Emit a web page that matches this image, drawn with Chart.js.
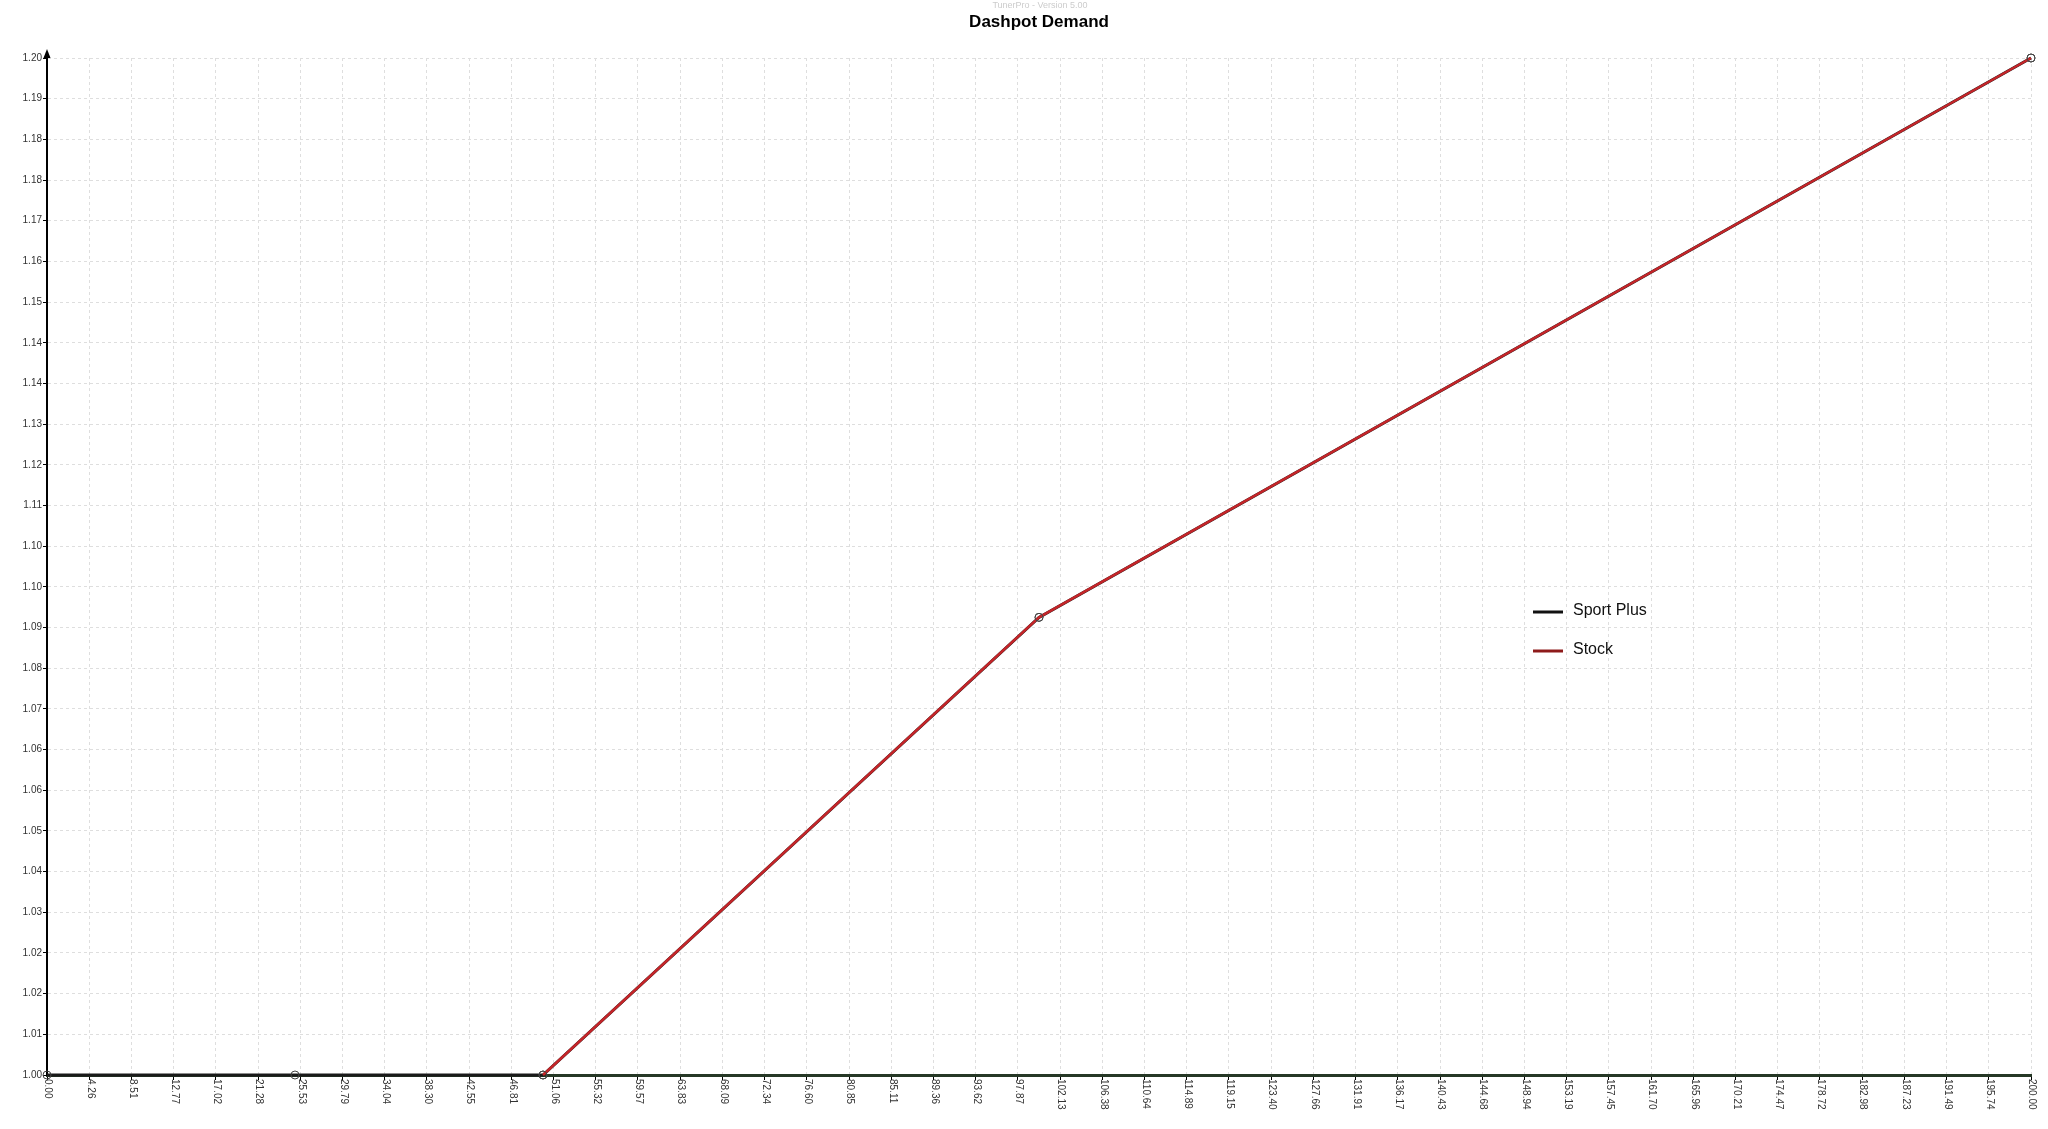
<!DOCTYPE html>
<html lang="en">
<head>
    <meta charset="UTF-8">
    <title>Dashpot Demand</title>
    <script src="https://cdn.jsdelivr.net/npm/chart.js"></script>
    <style>
        body {
            margin: 0;
            padding: 0;
            background: #ffffff;
            overflow: hidden;
        }
        #chart {
            display: block;
        }
    </style>
</head>
<body>
    <canvas id="chart" width="2048" height="1129"></canvas>

    <script>
        // data
        const seriesNames = ['Sport Plus', 'Stock'];
        const xValues = [0, 25, 50, 100, 200];
        const sportPlusValues = [1.00, 1.00, 1.00, 1.09, 1.20];
        const stockValues = [null, null, 1.00, 1.09, 1.20];

        const xTickLabels = ['0.00', '4.26', '8.51', '12.77', '17.02', '21.28', '25.53', '29.79', '34.04', '38.30',
            '42.55', '46.81', '51.06', '55.32', '59.57', '63.83', '68.09', '72.34', '76.60', '80.85',
            '85.11', '89.36', '93.62', '97.87', '102.13', '106.38', '110.64', '114.89', '119.15', '123.40',
            '127.66', '131.91', '136.17', '140.43', '144.68', '148.94', '153.19', '157.45', '161.70', '165.96',
            '170.21', '174.47', '178.72', '182.98', '187.23', '191.49', '195.74', '200.00'];
        const yTickValues = [1.000, 1.008, 1.016, 1.024, 1.032, 1.040, 1.048, 1.056, 1.064, 1.072,
            1.080, 1.088, 1.096, 1.104, 1.112, 1.120, 1.128, 1.136, 1.144, 1.152,
            1.160, 1.168, 1.176, 1.184, 1.192, 1.200];
        const yTickLabels = ['1.00', '1.01', '1.02', '1.02', '1.03', '1.04', '1.05', '1.06', '1.06', '1.07',
            '1.08', '1.09', '1.10', '1.10', '1.11', '1.12', '1.13', '1.14', '1.14', '1.15',
            '1.16', '1.17', '1.18', '1.18', '1.19', '1.20'];

        const lineColors = ['#1a1a1a', '#c42529'];
        const legendColors = ['#111111', '#8e1b1b'];

        const toPoints = vals => vals.map((v, i) => ({ x: xValues[i], y: v }));

        // title, rotated x labels, axis arrow and legend
        const decorations = {
            id: 'decorations',
            afterDraw(chart) {
                const ctx = chart.ctx;
                const area = chart.chartArea;
                const xs = chart.scales.x;
                ctx.save();

                ctx.fillStyle = '#cccccc';
                ctx.font = '9px "Liberation Sans", Arial, sans-serif';
                ctx.textAlign = 'center';
                ctx.textBaseline = 'middle';
                ctx.fillText('TunerPro - Version 5.00', 1040, 6);

                ctx.fillStyle = '#000000';
                ctx.font = 'bold 17px "Liberation Sans", Arial, sans-serif';
                ctx.fillText('Dashpot Demand', 1039, 22);

                // x tick labels read top to bottom
                ctx.fillStyle = '#333333';
                ctx.font = '10px "Liberation Sans", Arial, sans-serif';
                ctx.textAlign = 'left';
                xTickLabels.forEach(lbl => {
                    const px = xs.getPixelForValue(parseFloat(lbl));
                    ctx.save();
                    ctx.translate(px + 1, area.bottom + 4);
                    ctx.rotate(Math.PI / 2);
                    ctx.fillText(lbl, 0, 0);
                    ctx.restore();
                });

                // arrow on top of y axis
                ctx.fillStyle = '#000000';
                ctx.beginPath();
                ctx.moveTo(area.left, area.top - 9);
                ctx.lineTo(area.left - 3.5, area.top);
                ctx.lineTo(area.left + 3.5, area.top);
                ctx.closePath();
                ctx.fill();

                // legend
                ctx.font = '16px "Liberation Sans", Arial, sans-serif';
                ctx.textBaseline = 'middle';
                seriesNames.forEach((name, i) => {
                    const y = 612 + i * 39;
                    ctx.strokeStyle = legendColors[i];
                    ctx.lineWidth = 3;
                    ctx.beginPath();
                    ctx.moveTo(1533, y);
                    ctx.lineTo(1563, y);
                    ctx.stroke();
                    ctx.fillStyle = '#111111';
                    ctx.fillText(name, 1573, y - 1);
                });

                ctx.restore();
            }
        };

        const chart = new Chart(document.getElementById('chart'), {
            type: 'line',
            data: {
                datasets: [
                    {
                        label: seriesNames[0],
                        data: toPoints(sportPlusValues),
                        borderColor: lineColors[0],
                        borderWidth: 3,
                        pointRadius: 4,
                        pointBorderColor: '#444444',
                        pointBackgroundColor: 'rgba(0,0,0,0)',
                        pointBorderWidth: 1,
                        tension: 0,
                        clip: false,
                        order: 2
                    },
                    {
                        label: seriesNames[1],
                        data: toPoints(stockValues),
                        borderColor: lineColors[1],
                        borderWidth: 2.5,
                        pointRadius: 4,
                        pointBorderColor: '#444444',
                        pointBackgroundColor: 'rgba(0,0,0,0)',
                        pointBorderWidth: 1,
                        tension: 0,
                        clip: false,
                        order: 1
                    }
                ]
            },
            options: {
                responsive: false,
                devicePixelRatio: 1,
                animation: false,
                layout: { padding: { top: 58, right: 17, left: 0, bottom: 0 } },
                plugins: {
                    legend: { display: false },
                    title: { display: false },
                    tooltip: { enabled: false }
                },
                scales: {
                    x: {
                        type: 'linear',
                        min: 0,
                        max: 200,
                        afterBuildTicks: s => { s.ticks = xTickLabels.map(l => ({ value: parseFloat(l) })); },
                        afterFit: s => { s.height = 54; },
                        ticks: { display: false },
                        grid: { color: '#dedede', lineWidth: 1, tickLength: 5, tickColor: '#000000', tickWidth: 1 },
                        border: { display: true, color: '#263826', width: 3, dash: [3, 3] }
                    },
                    y: {
                        min: 1.0,
                        max: 1.2,
                        afterBuildTicks: s => { s.ticks = yTickValues.map(v => ({ value: v })); },
                        afterFit: s => { s.width = 47; },
                        ticks: {
                            autoSkip: false,
                            padding: 1,
                            color: '#333333',
                            font: { family: '"Liberation Sans", Arial, sans-serif', size: 10 },
                            callback: (v, i) => yTickLabels[i]
                        },
                        grid: { color: '#dedede', lineWidth: 1, tickLength: 4, tickColor: '#000000', tickWidth: 1 },
                        border: { display: true, color: '#000000', width: 2, dash: [3, 3] }
                    }
                }
            },
            plugins: [decorations]
        });
    </script>
</body>
</html>
